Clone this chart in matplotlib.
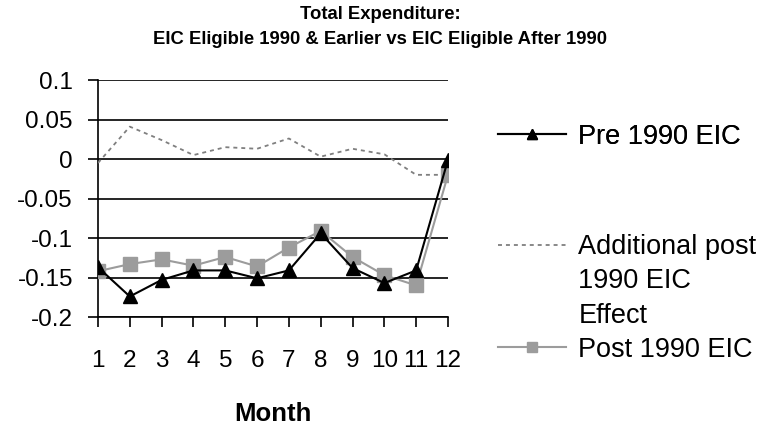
import matplotlib
matplotlib.use("Agg")
import matplotlib.pyplot as plt
from matplotlib.lines import Line2D

# ------------------------------------------------------------
# Data
# ------------------------------------------------------------
months = list(range(1, 13))
month_labels = [str(m) for m in months]

pre_1990 = [-0.137, -0.174, -0.153, -0.141, -0.141, -0.151,
            -0.141, -0.094, -0.138, -0.157, -0.141, -0.001]
post_1990 = [-0.142, -0.133, -0.127, -0.135, -0.124, -0.136,
             -0.112, -0.091, -0.124, -0.147, -0.160, -0.020]
additional = [-0.005, 0.041, 0.024, 0.005, 0.015, 0.013,
              0.026, 0.003, 0.013, 0.006, -0.020, -0.020]

y_ticks = [0.1, 0.05, 0.0, -0.05, -0.1, -0.15, -0.2]
y_tick_labels = ["0.1", "0.05", "0", "-0.05", "-0.1", "-0.15", "-0.2"]

# ------------------------------------------------------------
# Style
# ------------------------------------------------------------
plt.rcParams["font.family"] = ["Liberation Sans", "DejaVu Sans"]
plt.rcParams["axes.unicode_minus"] = False

fig = plt.figure(figsize=(7.68, 4.28), dpi=100)
ax = fig.add_axes([0.1276, 0.2593, 0.4557, 0.5537])

pre_color = "black"
post_color = "#9c9c9c"
add_color = "#7f7f7f"

ax.plot(months, pre_1990, color=pre_color, lw=1.5, marker="^", ms=10,
        zorder=4)
ax.plot(months, additional, color=add_color, lw=1.3,
        linestyle=(0, (2.2, 2.2)), zorder=3)
ax.plot(months, post_1990, color=post_color, lw=1.5, marker="s", ms=10,
        zorder=3)

ax.set_xlim(1, 12)
ax.set_ylim(-0.2, 0.1)
ax.set_xticks(months)
ax.set_xticklabels(month_labels)
ax.set_yticks(y_ticks)
ax.set_yticklabels(y_tick_labels)

ax.grid(axis="y", color="black", lw=1.2)
ax.set_axisbelow(True)
for side in ["top", "right"]:
    ax.spines[side].set_visible(False)
for side in ["left", "bottom"]:
    ax.spines[side].set_linewidth(1.2)

ax.tick_params(axis="x", direction="out", length=7, width=1.2,
               labelsize=17.5, pad=17)
ax.tick_params(axis="y", direction="out", length=7, width=1.2,
               labelsize=17.5, pad=11)

ax.set_xlabel("Month", fontsize=18.5, fontweight="bold", labelpad=21)

fig.suptitle("Total Expenditure:\nEIC Eligible 1990 & Earlier vs EIC Eligible After 1990",
             x=0.495, y=0.985, va="top", fontsize=13.3, fontweight="bold",
             linespacing=1.6)

# ------------------------------------------------------------
# Legend (Excel-like placement, split into two blocks)
# ------------------------------------------------------------
leg_kw = dict(frameon=False, fontsize=19.5, handlelength=2.5,
              handletextpad=0.45, borderpad=0, borderaxespad=0,
              markerscale=0.65, loc="center left")

h_pre = Line2D([], [], color=pre_color, lw=1.5, marker="^", ms=10)
leg1 = fig.legend([h_pre], ["Pre 1990 EIC"],
                  bbox_to_anchor=(0.649, 0.68), **leg_kw)

h_add = Line2D([], [], color=add_color, lw=1.3, linestyle=(0, (2.2, 2.2)))
h_none = Line2D([], [], linestyle="none")
h_post = Line2D([], [], color=post_color, lw=1.5, marker="s", ms=10)
leg2 = fig.legend([h_add, h_none, h_none, h_post],
                  ["Additional post", "1990 EIC", "Effect", "Post 1990 EIC"],
                  bbox_to_anchor=(0.649, 0.3026), labelspacing=0.3, **leg_kw)
fig.add_artist(leg1)

fig.savefig("out.png", dpi=100)
